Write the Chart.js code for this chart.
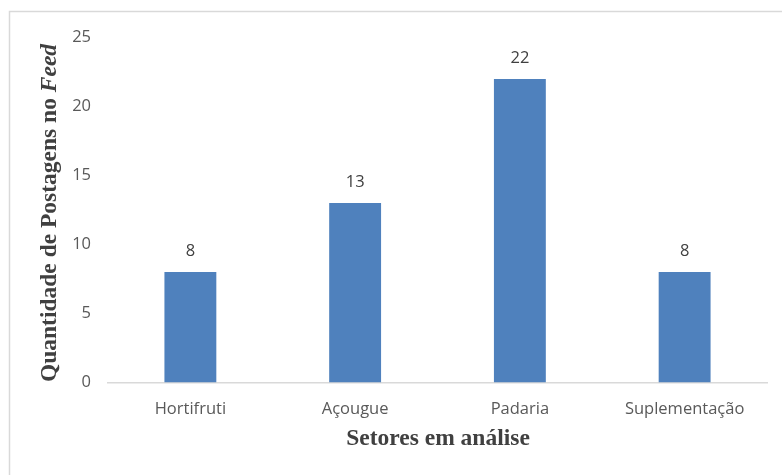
<!DOCTYPE html>
<html>
<head>
<meta charset="utf-8">
<script src="https://cdn.jsdelivr.net/npm/chart.js@4/dist/chart.umd.min.js"></script>
<style>
  html, body { margin: 0; padding: 0; background: #fff; }
  #wrap { position: relative; width: 782px; height: 475px; }
</style>
</head>
<body>
<div id="wrap"><canvas id="postsChart" width="782" height="475"></canvas></div>
<script>
// Postagens no feed por setor
const sectors = ["Hortifruti", "Açougue", "Padaria", "Suplementação"];
const posts = [8, 13, 22, 8];
const yTicks = [0, 5, 10, 15, 20, 25];

const barColor = "#4F81BD";
const tickColor = "#595959";
const titleColor = "#404040";
const titleFont = "'Liberation Serif', 'Times New Roman', serif";
const tickFont = "'Open Sans', 'Noto Sans', sans-serif";

// moldura cinza clara em volta do grafico
const framePlugin = {
  id: "frame",
  beforeDraw(chart) {
    const ctx = chart.ctx;
    ctx.save();
    ctx.fillStyle = "#fff";
    ctx.fillRect(0, 0, chart.width, chart.height);
    ctx.strokeStyle = "#D9D9D9";
    ctx.lineWidth = 1.5;
    ctx.beginPath();
    ctx.moveTo(9.5, chart.height);
    ctx.lineTo(9.5, 11.5);
    ctx.lineTo(chart.width, 11.5);
    ctx.stroke();
    ctx.restore();
  },
};

// valores acima das barras
const valueLabels = {
  id: "valueLabels",
  afterDatasetsDraw(chart) {
    const ctx = chart.ctx;
    const meta = chart.getDatasetMeta(0);
    ctx.save();
    ctx.font = "16.5px " + tickFont;
    ctx.fillStyle = titleColor;
    ctx.textAlign = "center";
    ctx.textBaseline = "middle";
    meta.data.forEach((bar, i) => {
      ctx.fillText(String(posts[i]), bar.x, bar.y - 21);
    });
    ctx.restore();
  },
};

// titulos dos eixos (o do eixo y mistura negrito e italico)
const axisTitles = {
  id: "axisTitles",
  afterDraw(chart) {
    const ctx = chart.ctx;
    ctx.save();
    ctx.fillStyle = titleColor;

    ctx.font = "bold 23.5px " + titleFont;
    ctx.textAlign = "center";
    ctx.textBaseline = "middle";
    ctx.fillText("Setores em análise", 438, 439);

    const part1 = "Quantidade de Postagens no ";
    const part2 = "Feed";
    const f1 = "bold 23.5px " + titleFont;
    const f2 = "bold italic 23.5px " + titleFont;
    ctx.font = f1;
    const w1 = ctx.measureText(part1).width;
    ctx.font = f2;
    const w2 = ctx.measureText(part2).width;
    ctx.translate(50, 213);
    ctx.rotate(-Math.PI / 2);
    ctx.textAlign = "left";
    const start = -(w1 + w2) / 2;
    ctx.font = f1;
    ctx.fillText(part1, start, 0);
    ctx.font = f2;
    ctx.fillText(part2, start + w1, 0);
    ctx.restore();
  },
};

new Chart(document.getElementById("postsChart"), {
  type: "bar",
  data: {
    labels: sectors,
    datasets: [
      {
        data: posts,
        backgroundColor: barColor,
        categoryPercentage: 1,
        barPercentage: 0.315,
      },
    ],
  },
  options: {
    responsive: false,
    animation: false,
    layout: { padding: { left: 0, right: 15, top: 37.5, bottom: 0 } },
    plugins: {
      legend: { display: false },
      tooltip: { enabled: false },
    },
    scales: {
      x: {
        grid: { display: false, drawTicks: false },
        border: { display: true, color: "#D9D9D9", width: 1.5 },
        ticks: {
          color: tickColor,
          font: { family: tickFont, size: 16.5 },
          padding: 17,
        },
        afterFit(scale) { scale.height = 92.5; },
      },
      y: {
        min: 0,
        max: 25,
        afterBuildTicks(scale) {
          scale.ticks = yTicks.map((v) => ({ value: v }));
        },
        grid: { display: false, drawTicks: false },
        border: { display: false },
        ticks: {
          color: tickColor,
          font: { family: tickFont, size: 16.5 },
          padding: 17,
        },
        afterFit(scale) { scale.width = 108; },
      },
    },
  },
  plugins: [framePlugin, valueLabels, axisTitles],
});
</script>
</body>
</html>
